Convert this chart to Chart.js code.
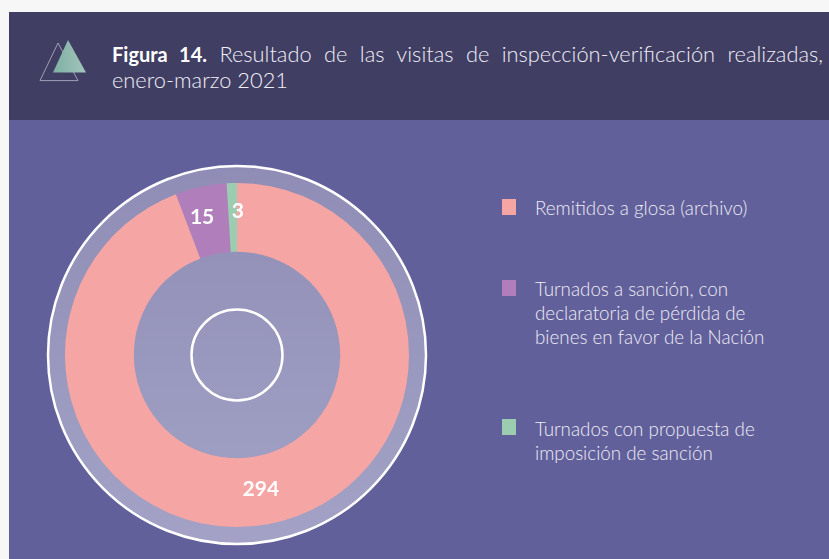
<!DOCTYPE html>
<html lang="es">
<head>
<meta charset="utf-8">
<title>Figura 14</title>
<script src="https://cdn.jsdelivr.net/npm/chart.js@4"></script>
<style>
  html, body { margin: 0; padding: 0; }
  body { width: 829px; height: 559px; background: #f7f7f7; overflow: hidden; position: relative; font-family: Lato, "Open Sans", sans-serif; }
  .panel { position: absolute; left: 9px; top: 12px; width: 820px; height: 547px; background: #62609a; }
  .header { position: absolute; left: 9px; top: 12px; width: 820px; height: 108px; background: #403e63; }
  .header svg { position: absolute; left: 30px; top: 26px; }
  .title { position: absolute; left: 103px; top: 29px; width: 711px; font-size: 21.8px; line-height: 26px; color: #f0eff7; font-weight: 300; }
  .title div:first-child { text-align: justify; text-align-last: justify; }
  .title b { color: #fff; font-weight: 700; font-size: 20px; }
  #chartWrap { position: absolute; left: 37px; top: 155px; width: 400px; height: 400px; }
  .legend-item { position: absolute; left: 535px; width: 280px; color: #eeedf6; font-size: 18.8px; line-height: 24px; font-weight: 300; }
  .swatch { position: absolute; left: 502px; width: 14px; height: 16px; }
</style>
</head>
<body>
<div class="panel"></div>
<div class="header">
  <svg width="60" height="50" viewBox="0 0 60 50">
    <defs>
      <linearGradient id="tri" x1="0" x2="1" y1="0" y2="0">
        <stop offset="0" stop-color="#7fb0a3"/>
        <stop offset="1" stop-color="#a3c4bb"/>
      </linearGradient>
    </defs>
    <polygon points="19,5 39,42.6 1,42.6" fill="none" stroke="#b9b8c9" stroke-width="0.8"/>
    <polygon points="29,2 47,34.6 14,34.6" fill="url(#tri)"/>
  </svg>
  <div class="title">
    <div><b>Figura 14.</b> Resultado de las visitas de inspección-verificación realizadas,</div>
    <div>enero-marzo 2021</div>
  </div>
</div>
<div id="chartWrap"><canvas id="resultChart" width="400" height="400"></canvas></div>
<div id="legend"></div>

<script>
const categories = [
  "Remitidos a glosa (archivo)",
  "Turnados a sanción, con declaratoria de pérdida de bienes en favor de la Nación",
  "Turnados con propuesta de imposición de sanción",
];
const legendLines = [
  ["Remitidos a glosa (archivo)"],
  ["Turnados a sanción, con", "declaratoria de pérdida de", "bienes en favor de la Nación"],
  ["Turnados con propuesta de", "imposición de sanción"],
];
const values = [294, 15, 3];
const sliceColors = ["#f5a6a4", "#b07fbb", "#9dcdb0"];

// legend rows sit at these y positions in the picture
const legendTops = [196, 277, 417];
const swatchTops = [199, 280, 419];
const legendEl = document.getElementById("legend");
categories.forEach(function (name, i) {
  legendEl.insertAdjacentHTML(
    "beforeend",
    `<i class="swatch" style="top:${swatchTops[i]}px;background:${sliceColors[i]}"></i>
     <div class="legend-item" style="top:${legendTops[i]}px">${legendLines[i].join("<br>")}</div>`
  );
});

// grey disc with white rings behind and inside the doughnut
const ringsPlugin = {
  id: "rings",
  beforeDatasetsDraw(chart) {
    const arc = chart.getDatasetMeta(0).data[0];
    const c = chart.ctx;
    c.save();
    const grad = c.createLinearGradient(0, arc.y - 190, 0, arc.y + 190);
    grad.addColorStop(0, "#8f8db5");
    grad.addColorStop(1, "#a3a2c6");
    c.beginPath();
    c.arc(arc.x, arc.y, 189, 0, Math.PI * 2);
    c.fillStyle = grad;
    c.fill();
    c.lineWidth = 2.5;
    c.strokeStyle = "#ffffff";
    c.stroke();
    c.beginPath();
    c.arc(arc.x, arc.y, 45.5, 0, Math.PI * 2);
    c.lineWidth = 2.5;
    c.stroke();
    c.restore();
  },
};

// value labels, the two small slices are nudged like in the original
const labelNudge = [[-1, -1], [-6, -3], [5, -6]];
const labelsPlugin = {
  id: "sliceLabels",
  afterDatasetsDraw(chart) {
    const c = chart.ctx;
    c.save();
    c.font = "700 21px Lato, sans-serif";
    c.fillStyle = "#ffffff";
    c.textAlign = "center";
    c.textBaseline = "middle";
    chart.getDatasetMeta(0).data.forEach(function (arc, i) {
      const p = arc.tooltipPosition();
      c.fillText(values[i], p.x + labelNudge[i][0], p.y + labelNudge[i][1]);
    });
    c.restore();
  },
};

new Chart(document.getElementById("resultChart"), {
  type: "doughnut",
  data: {
    labels: categories,
    datasets: [
      {
        data: values,
        backgroundColor: sliceColors,
        borderWidth: 0,
      },
    ],
  },
  options: {
    responsive: false,
    animation: false,
    cutout: "60%",
    layout: { padding: 28 },
    plugins: { legend: { display: false }, tooltip: { enabled: false } },
  },
  plugins: [ringsPlugin, labelsPlugin],
});
</script>
</body>
</html>
